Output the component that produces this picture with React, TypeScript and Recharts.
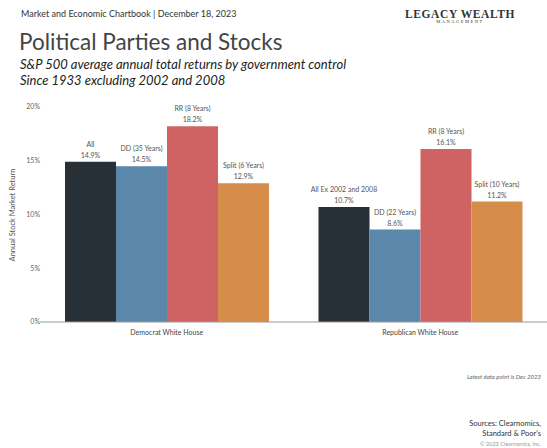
import { Bar, BarChart, LabelList, XAxis, YAxis } from "recharts";

const categories = ["Democrat White House", "Republican White House"];
const allValues = [14.9, 10.7];
const ddValues = [14.5, 8.6];
const rrValues = [18.2, 16.1];
const splitValues = [12.9, 11.2];
const allNames = ["All", "All Ex 2002 and 2008"];
const ddNames = ["DD (35 Years)", "DD (22 Years)"];
const rrNames = ["RR (8 Years)", "RR (8 Years)"];
const splitNames = ["Split (6 Years)", "Split (10 Years)"];
const yTicks = [0, 5, 10, 15, 20];

const FONT = "Lato, 'Open Sans', sans-serif";

const chartData = categories.map((cat, i) => ({
  cat,
  all: allValues[i],
  dd: ddValues[i],
  rr: rrValues[i],
  split: splitValues[i],
}));

const series = [
  { key: "all", color: "#283037", names: allNames },
  { key: "dd", color: "#5b87aa", names: ddNames },
  { key: "rr", color: "#cf6262", names: rrNames },
  { key: "split", color: "#d68d4a", names: splitNames },
];

// two-line label: name on top, value below
function makeLabel(names: string[]) {
  return (props: any) => {
    const { x, y, width, value, index } = props;
    const cx = x + width / 2;
    return (
      <g>
        <text x={cx} y={y - 15} textAnchor="middle" fontSize={7} fill="#555" fontFamily={FONT}>
          {names[index]}
        </text>
        <text x={cx} y={y - 4} textAnchor="middle" fontSize={7} fill="#555" fontFamily={FONT}>
          {value.toFixed(1)}%
        </text>
      </g>
    );
  };
}

export default function App() {
  return (
    <div
      style={{
        position: "absolute",
        left: 0,
        top: 0,
        width: 547,
        height: 448,
        background: "#fff",
        fontFamily: FONT,
        overflow: "hidden",
      }}
    >
      <div style={{ position: "absolute", left: 21, top: 8, fontSize: 9, color: "#333" }}>
        Market and Economic Chartbook | December 18, 2023
      </div>
      <div
        style={{
          position: "absolute",
          left: 400,
          top: 8,
          width: 120,
          textAlign: "center",
          fontFamily: "'Liberation Serif', serif",
          color: "#333",
          whiteSpace: "nowrap",
        }}
      >
        <div style={{ fontSize: 11.5, fontWeight: "bold", letterSpacing: 0.6 }}>LEGACY WEALTH</div>
        <div style={{ fontSize: 4.5, letterSpacing: 1.5, marginTop: -1 }}>MANAGEMENT</div>
      </div>
      <div style={{ position: "absolute", left: 19, top: 28, fontSize: 22.5, color: "#444" }}>
        Political Parties and Stocks
      </div>
      <div
        style={{
          position: "absolute",
          left: 20,
          top: 56,
          fontSize: 13,
          fontStyle: "italic",
          color: "#222",
          lineHeight: "16px",
        }}
      >
        S&amp;P 500 average annual total returns by government control
        <br />
        Since 1933 excluding 2002 and 2008
      </div>
      <div
        style={{
          position: "absolute",
          left: 12,
          top: 215,
          fontSize: 7.5,
          color: "#555",
          transform: "translate(-50%, -50%) rotate(-90deg)",
          whiteSpace: "nowrap",
        }}
      >
        Annual Stock Market Return
      </div>
      <div style={{ position: "absolute", right: 6, top: 373, fontSize: 6, fontStyle: "italic", color: "#666" }}>
        Latest data point is Dec 2023
      </div>
      <div
        style={{
          position: "absolute",
          right: 6,
          top: 419,
          fontSize: 7.5,
          color: "#333",
          textAlign: "right",
          lineHeight: "10px",
        }}
      >
        Sources: Clearnomics,
        <br />
        Standard &amp; Poor's
        <br />
        <span style={{ fontSize: 5.5, color: "#999" }}>© 2023 Clearnomics, Inc.</span>
      </div>
      <div style={{ position: "absolute", left: 0, top: 0 }}>
        <BarChart
          width={547}
          height={448}
          data={chartData}
          margin={{ top: 107, right: 0, bottom: 106, left: 0 }}
          barGap={0}
          barCategoryGap={25}
        >
          <XAxis
            dataKey="cat"
            height={20}
            tickLine={false}
            axisLine={{ stroke: "#999" }}
            tick={{ fontSize: 7, fill: "#444", fontFamily: FONT }}
            tickMargin={2}
          />
          <YAxis
            width={40}
            domain={[0, 20]}
            ticks={yTicks}
            tickFormatter={(v) => `${v}%`}
            axisLine={false}
            tickLine={false}
            tickSize={0}
            tickMargin={0}
            tick={{ fontSize: 7, fill: "#666", fontFamily: FONT }}
          />
          {series.map((s) => (
            <Bar key={s.key} dataKey={s.key} fill={s.color} isAnimationActive={false}>
              <LabelList dataKey={s.key} content={makeLabel(s.names)} />
            </Bar>
          ))}
        </BarChart>
      </div>
    </div>
  );
}
